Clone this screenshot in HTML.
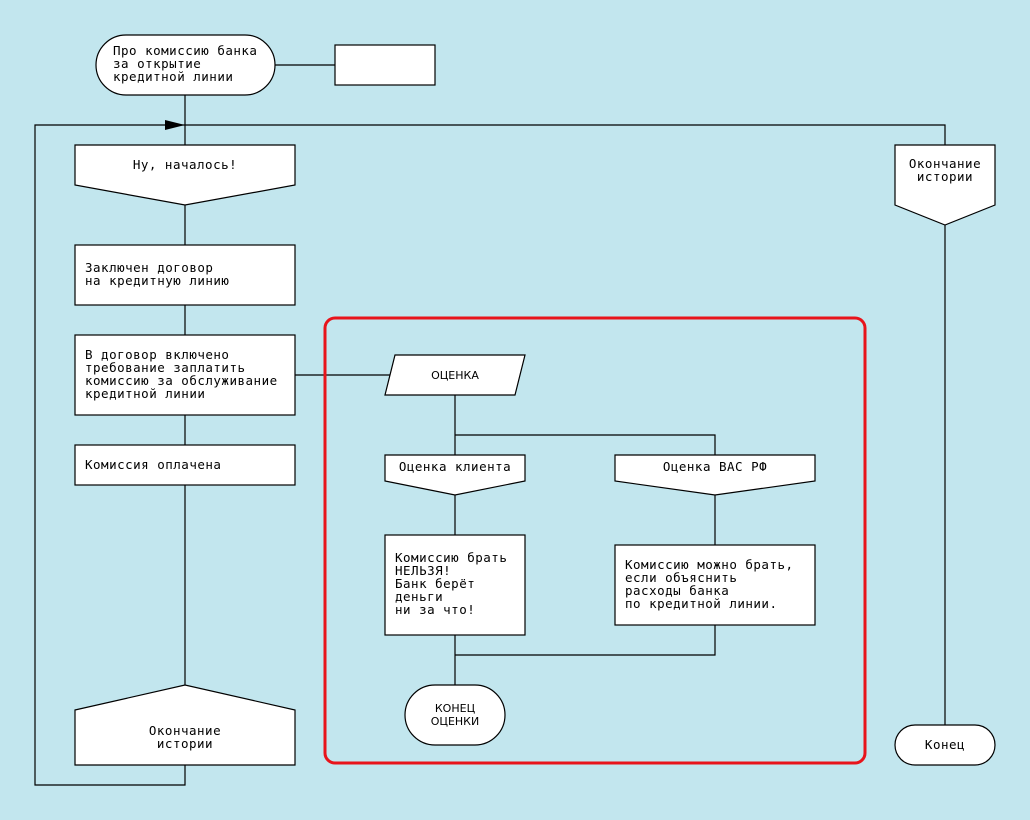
<!DOCTYPE html>
<html><head><meta charset="utf-8"><style>
html,body{margin:0;padding:0;background:#c2e6ee}
svg{display:block}
text{font-family:"DejaVu Sans Mono","Liberation Mono",monospace;font-size:12.5px;letter-spacing:0.5px;fill:#000;white-space:pre}
.s{font-family:"DejaVu Sans","Liberation Sans",sans-serif;font-size:11px;letter-spacing:0}
</style></head><body>
<svg width="1030" height="820" viewBox="0 0 1030 820" xmlns="http://www.w3.org/2000/svg">
<rect width="1030" height="820" fill="#c2e6ee"/>
<g stroke="#000" stroke-width="1.2" fill="none">
<line x1="275" y1="65" x2="335" y2="65"/>
<line x1="185" y1="95" x2="185" y2="690"/>
<polyline points="185,765 185,785 35,785 35,125 945,125 945,730"/>
<line x1="295" y1="375" x2="390" y2="375"/>
<polyline points="455,395 455,455"/>
<polyline points="455,435 715,435 715,455"/>
<line x1="455" y1="495" x2="455" y2="535"/>
<line x1="715" y1="495" x2="715" y2="545"/>
<polyline points="455,635 455,690"/>
<polyline points="455,655 715,655 715,625"/>
</g>
<polygon points="165,120 185,125 165,130" fill="#000"/>
<g stroke="#000" stroke-width="1.2" fill="#fff">
<rect x="96" y="35" width="179" height="60" rx="30"/>
<rect x="335" y="45" width="100" height="40"/>
<polygon points="75,145 295,145 295,185 185,205 75,185"/>
<polygon points="895,145 995,145 995,205 945,225 895,205"/>
<rect x="75" y="245" width="220" height="60"/>
<rect x="75" y="335" width="220" height="80"/>
<rect x="75" y="445" width="220" height="40"/>
<polygon points="75,710 185,685 295,710 295,765 75,765"/>
<polygon points="395,355 525,355 515,395 385,395"/>
<polygon points="385,455 525,455 525,481 455,495 385,481"/>
<polygon points="615,455 815,455 815,481 715,495 615,481"/>
<rect x="385" y="535" width="140" height="100"/>
<rect x="615" y="545" width="200" height="80"/>
<rect x="405" y="685" width="100" height="60" rx="30"/>
<rect x="895" y="725" width="100" height="40" rx="20"/>
</g>
<rect x="325" y="318" width="540" height="445" rx="10" fill="none" stroke="#e8141b" stroke-width="3"/>
<text x="113" y="55">Про комиссию банка</text>
<text x="113" y="68">за открытие</text>
<text x="113" y="81">кредитной линии</text>
<text x="185" y="169" text-anchor="middle">Ну, началось!</text>
<text x="945" y="168" text-anchor="middle">Окончание</text>
<text x="945" y="181" text-anchor="middle">истории</text>
<text x="85" y="272">Заключен договор</text>
<text x="85" y="285">на кредитную линию</text>
<text x="85" y="359">В договор включено</text>
<text x="85" y="372">требование заплатить</text>
<text x="85" y="385">комиссию за обслуживание</text>
<text x="85" y="398">кредитной линии</text>
<text x="85" y="469">Комиссия оплачена</text>
<text x="185" y="735" text-anchor="middle">Окончание</text>
<text x="185" y="748" text-anchor="middle">истории</text>
<text class="s" x="455" y="379" text-anchor="middle">ОЦЕНКА</text>
<text x="455" y="471" text-anchor="middle">Оценка клиента</text>
<text x="715" y="471" text-anchor="middle">Оценка ВАС РФ</text>
<text x="395" y="562">Комиссию брать</text>
<text x="395" y="575">НЕЛЬЗЯ!</text>
<text x="395" y="588">Банк берёт</text>
<text x="395" y="601">деньги</text>
<text x="395" y="614">ни за что!</text>
<text x="625" y="569">Комиссию можно брать,</text>
<text x="625" y="582">если объяснить</text>
<text x="625" y="595">расходы банка</text>
<text x="625" y="608">по кредитной линии.</text>
<text class="s" x="455" y="712" text-anchor="middle">КОНЕЦ</text>
<text class="s" x="455" y="725" text-anchor="middle">ОЦЕНКИ</text>
<text x="945" y="749" text-anchor="middle">Конец</text>
</svg>
</body></html>
